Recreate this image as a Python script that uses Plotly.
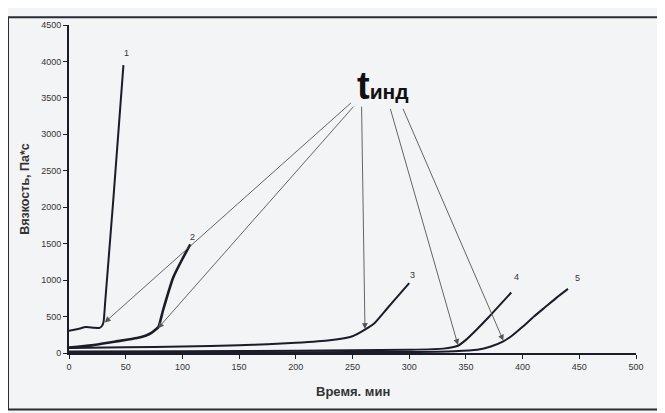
import plotly.graph_objects as go

# Curve data (time, min ; viscosity, Pa*s)
c1_t = [0, 8, 15, 22, 27, 29, 30.5, 32, 39, 48]
c1_v = [305, 330, 355, 345, 345, 370, 430, 720, 2090, 3950]

c2_t = [0, 20, 40, 60, 68, 73, 77, 79, 83, 92, 100, 107]
c2_v = [75, 105, 155, 205, 240, 280, 330, 360, 590, 1040, 1290, 1490]

c3_t = [0, 50, 100, 150, 175, 200, 230, 250, 262, 270, 280, 290, 300]
c3_v = [70, 78, 90, 105, 120, 140, 175, 230, 330, 420, 600, 780, 960]

c4_t = [0, 100, 200, 300, 330, 343, 350, 360, 370, 380, 390]
c4_v = [20, 25, 30, 45, 60, 100, 180, 330, 490, 660, 830]

c5_t = [0, 100, 200, 300, 340, 360, 372, 383, 390, 400, 410, 420, 430, 440]
c5_v = [10, 10, 12, 15, 25, 45, 90, 160, 230, 360, 500, 630, 760, 880]

curve_labels = ["1", "2", "3", "4", "5"]
label_pos_t = [51, 109, 303, 395, 448]
label_pos_v = [4120, 1590, 1070, 1040, 1030]

# t_ind arrow tips (on curves) and tails (near the label)
tip_t = [31.5, 78.5, 261, 343, 383]
tip_v = [420, 340, 330, 110, 170]
tail_t = [250, 252, 258, 283, 294]
tail_v = [3450, 3400, 3400, 3370, 3370]

x_ticks = list(range(0, 501, 50))
y_ticks = list(range(0, 4501, 500))

line_col = "#1c1c28"
fig = go.Figure()
for t, v, w in [(c1_t, c1_v, 2), (c2_t, c2_v, 2.6), (c3_t, c3_v, 2),
                (c4_t, c4_v, 2), (c5_t, c5_v, 2)]:
    fig.add_trace(go.Scatter(x=t, y=v, mode="lines", line=dict(color=line_col, width=w,
                             shape="spline", smoothing=0.5),
                             showlegend=False, hoverinfo="skip"))

annotations = []
for lab, t, v in zip(curve_labels, label_pos_t, label_pos_v):
    annotations.append(dict(x=t, y=v, text=lab, showarrow=False,
                            font=dict(size=9, color="#333", family="Liberation Sans")))
for xt, yt, xa, ya in zip(tip_t, tip_v, tail_t, tail_v):
    annotations.append(dict(x=xt, y=yt, ax=xa, ay=ya, axref="x", ayref="y", text="",
                            showarrow=True, arrowhead=2, arrowsize=1.3, arrowwidth=0.9,
                            arrowcolor="#555"))
annotations.append(dict(x=277, y=3660, text="<b><span style='font-size:38px'>t</span>инд</b>",
                        showarrow=False, yanchor="middle",
                        font=dict(size=21, color="#111", family="Liberation Sans")))
annotations.append(dict(xref="paper", yref="paper", x=0.5, y=-0.118, yanchor="middle",
                        text="<b>Время. мин</b>", showarrow=False,
                        font=dict(size=13, color="#333", family="Liberation Sans")))
annotations.append(dict(xref="paper", yref="paper", x=-0.078, y=0.50, textangle=-90,
                        xanchor="center", yanchor="middle",
                        text="<b>Вязкость, Па*с</b>", showarrow=False,
                        font=dict(size=12.5, color="#333", family="Liberation Sans")))

shapes = [dict(type="rect", xref="paper", yref="paper", x0=-0.1076, x1=1.08,
               y0=-0.1726, y1=1.0233, line=dict(color="#2a2a35", width=2))]

fig.update_layout(
    width=665, height=413,
    margin=dict(l=61, r=37, t=15, b=68),
    paper_bgcolor="#f3f4f6", plot_bgcolor="#f3f4f6",
    annotations=annotations, shapes=shapes,
    xaxis=dict(range=[0, 500], tickvals=x_ticks, showgrid=False, zeroline=False,
               showline=True, linecolor="#1c1c28", linewidth=2,
               ticks="outside", ticklen=4, tickcolor="#1c1c28",
               tickfont=dict(size=9, color="#333", family="Liberation Sans")),
    yaxis=dict(range=[0, 4500], tickvals=y_ticks, showgrid=False, zeroline=False,
               showline=True, linecolor="#1c1c28", linewidth=2,
               ticks="outside", ticklen=4, tickcolor="#1c1c28",
               tickfont=dict(size=9, color="#333", family="Liberation Sans")),
)
fig.write_html("out.html")
